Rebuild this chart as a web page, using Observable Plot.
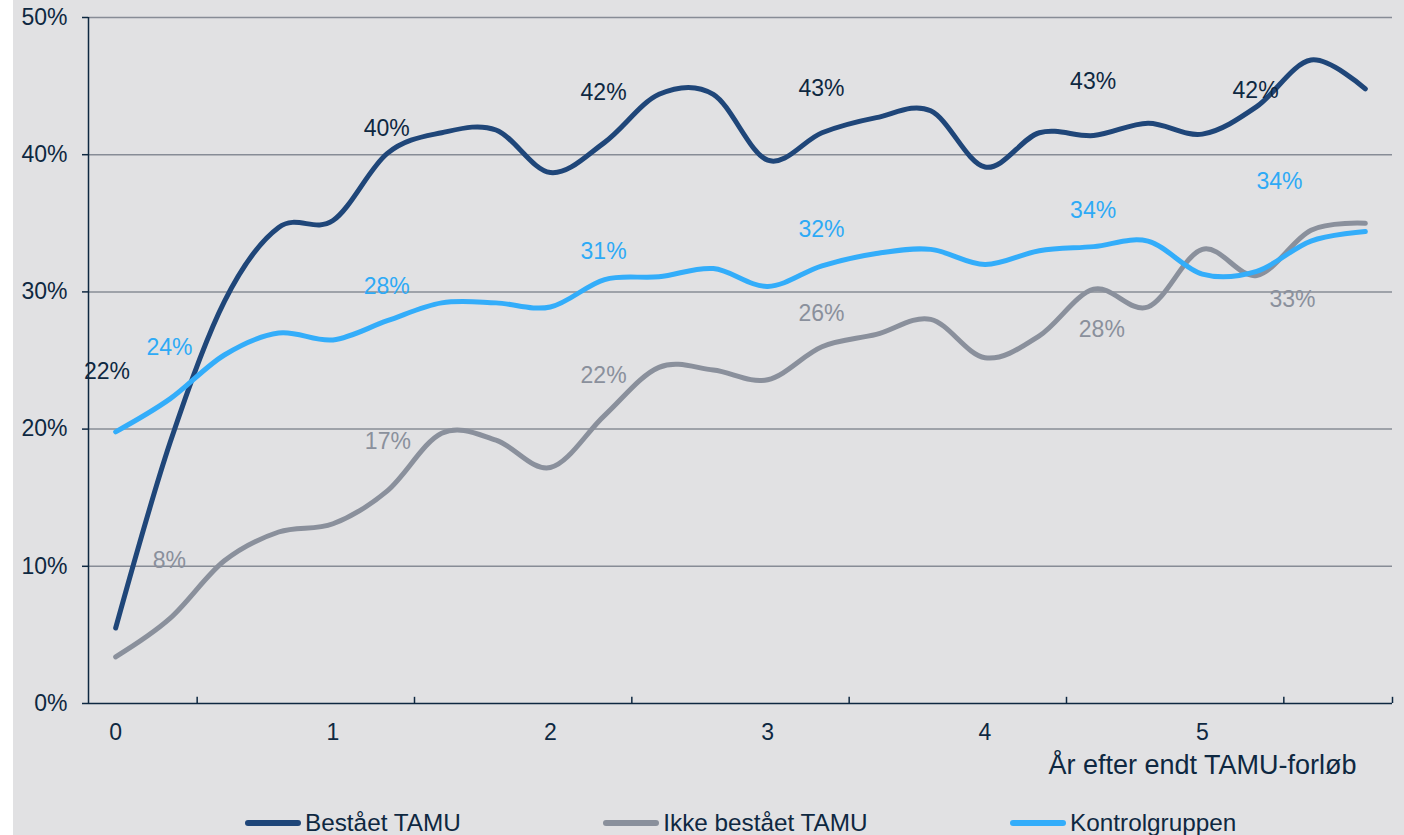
<!DOCTYPE html>
<html>
<head>
<meta charset="utf-8">
<script src="https://cdn.jsdelivr.net/npm/d3@7"></script>
<script src="https://cdn.jsdelivr.net/npm/@observablehq/plot@0.6"></script>
<style>
  html, body { margin: 0; padding: 0; background: #ffffff; }
  #wrap { position: absolute; left: 13px; top: 0; width: 1391px; height: 835px; background: #E1E1E3; overflow: hidden;
          font-family: "Liberation Sans", Arial, sans-serif; }
  #chart svg { display: block; }
  #legend { position: absolute; left: 0; top: 800px; width: 1391px; height: 35px; display: flex; padding-left: 232px; box-sizing: border-box; gap: 142.5px; }
  .item { position: relative; display: flex; align-items: flex-start; height: 35px; }
  .sw { width: 56px; height: 6px; border-radius: 3px; margin-top: 20px; margin-right: 4px; }
  .lt { font-size: 24.3px; line-height: 24.3px; margin-top: 11px; color: #0E2841; white-space: nowrap; }
</style>
</head>
<body>
<div id="wrap">
  <div id="chart"></div>
  <div id="legend"></div>
</div>
<script>
// ---- Data (quarters after end of TAMU course; values in %) ----
const quarters = [0,1,2,3,4,5,6,7,8,9,10,11,12,13,14,15,16,17,18,19,20,21,22,23];
const seriesNames = ["Bestået TAMU", "Ikke bestået TAMU", "Kontrolgruppen"];
const seriesColors = ["#1F4679", "#8A909C", "#33ADFA"];

const bestaet   = [5.5, 19.0, 29.3, 34.7, 35.2, 40.1, 41.6, 41.8, 38.7, 40.9, 44.4, 44.4, 39.6, 41.6, 42.7, 43.2, 39.1, 41.6, 41.4, 42.3, 41.5, 43.5, 46.9, 44.8];
const ikkeBestaet = [3.4, 6.2, 10.4, 12.5, 13.1, 15.5, 19.7, 19.2, 17.2, 21.0, 24.5, 24.3, 23.6, 26.0, 26.9, 28.0, 25.2, 26.8, 30.2, 28.9, 33.1, 31.2, 34.5, 35.0];
const kontrol   = [19.8, 22.2, 25.4, 27.0, 26.5, 27.9, 29.2, 29.2, 28.9, 30.9, 31.1, 31.7, 30.4, 31.9, 32.8, 33.1, 32.0, 33.0, 33.3, 33.7, 31.3, 31.5, 33.7, 34.4];

// Data labels (text, quarter position, value position)
const bestaetLabels  = ["22%", "40%", "42%", "43%", "43%", "42%"];
const bestaetLabelQ  = [-0.16, 4.99, 8.98, 12.99, 17.99, 20.98];
const bestaetLabelV  = [24.21, 41.91, 44.50, 44.80, 45.31, 44.66];

const ikkeLabels     = ["8%", "17%", "22%", "26%", "28%", "33%"];
const ikkeLabelQ     = [0.99, 5.01, 8.98, 12.99, 18.15, 21.66];
const ikkeLabelV     = [10.40, 19.10, 23.93, 28.44, 27.28, 29.47];

const kontrolLabels  = ["24%", "28%", "31%", "32%", "34%", "34%"];
const kontrolLabelQ  = [0.99, 4.99, 8.98, 12.99, 17.99, 21.42];
const kontrolLabelV  = [25.91, 30.42, 32.92, 34.57, 35.91, 38.03];

// Axes
const yTicks = [0, 10, 20, 30, 40, 50];
const xLabelQuarters = [0, 4, 8, 12, 16, 20];
const xTickLabels = ["0", "1", "2", "3", "4", "5"];
const xMinorTicks = [1.5, 5.5, 9.5, 13.5, 17.5, 21.5, 23.5];
const xTitle = "År efter endt TAMU-forløb";

// ---- Build tables ----
const toRows = vals => quarters.map((q, i) => ({q, v: vals[i]}));
const toLabels = (t, q, v) => t.map((s, i) => ({text: s, q: q[i], v: v[i]}));

const axisColor = "#0E2841";
const textColor = "#0E2841";

const chart = Plot.plot({
  width: 1391,
  height: 800,
  marginLeft: 75,
  marginRight: 12,
  marginTop: 17,
  marginBottom: 97,
  style: {background: "transparent", fontFamily: "Liberation Sans, Arial, sans-serif", fontSize: "23px", color: textColor},
  x: {domain: [-0.5, 23.5], axis: null},
  y: {domain: [0, 50], axis: null},
  marks: [
    Plot.gridY(yTicks.filter(d => d > 0), {stroke: "#878C96", strokeOpacity: 1, strokeWidth: 1.5}),
    Plot.axisY(yTicks, {tickSize: 6, tickPadding: 15, tickFormat: d => d + "%", color: axisColor, strokeWidth: 1.5, fontSize: 23, label: null}),
    Plot.axisX(xLabelQuarters, {tickSize: 0, tickPadding: 20, tickFormat: d => xTickLabels[xLabelQuarters.indexOf(d)], color: axisColor, fontSize: 23, label: null}),
    Plot.ruleX(xMinorTicks, {x: d => d, y1: 0, y2: 0.45, stroke: axisColor, strokeWidth: 1.5}),
    Plot.ruleY([0], {stroke: axisColor, strokeWidth: 1.5}),
    Plot.ruleX([-0.5], {stroke: axisColor, strokeWidth: 1.5}),
    Plot.line(toRows(bestaet), {x: "q", y: "v", stroke: seriesColors[0], strokeWidth: 5, curve: "cardinal", tension: 0}),
    Plot.line(toRows(ikkeBestaet), {x: "q", y: "v", stroke: seriesColors[1], strokeWidth: 5, curve: "cardinal", tension: 0}),
    Plot.line(toRows(kontrol), {x: "q", y: "v", stroke: seriesColors[2], strokeWidth: 5, curve: "cardinal", tension: 0}),
    Plot.text(toLabels(bestaetLabels, bestaetLabelQ, bestaetLabelV), {x: "q", y: "v", text: "text", fill: "#0E2841", fontSize: 23, textAnchor: "middle", lineAnchor: "middle"}),
    Plot.text(toLabels(ikkeLabels, ikkeLabelQ, ikkeLabelV), {x: "q", y: "v", text: "text", fill: "#8A909C", fontSize: 23, textAnchor: "middle", lineAnchor: "middle"}),
    Plot.text(toLabels(kontrolLabels, kontrolLabelQ, kontrolLabelV), {x: "q", y: "v", text: "text", fill: "#2EAAF6", fontSize: 23, textAnchor: "middle", lineAnchor: "middle"}),
    Plot.text([xTitle], {text: d => d, frameAnchor: "bottom-right", textAnchor: "end", lineAnchor: "middle", dx: -36, dy: 62, fontSize: 27, fill: textColor})
  ]
});
document.getElementById("chart").appendChild(chart);

// Legend
const legend = document.getElementById("legend");
seriesNames.forEach((name, i) => {
  const item = document.createElement("div");
  item.className = "item";
  const sw = document.createElement("div");
  sw.className = "sw";
  sw.style.background = seriesColors[i];
  const lt = document.createElement("div");
  lt.className = "lt";
  lt.textContent = name;
  item.appendChild(sw);
  item.appendChild(lt);
  legend.appendChild(item);
});
</script>
</body>
</html>
